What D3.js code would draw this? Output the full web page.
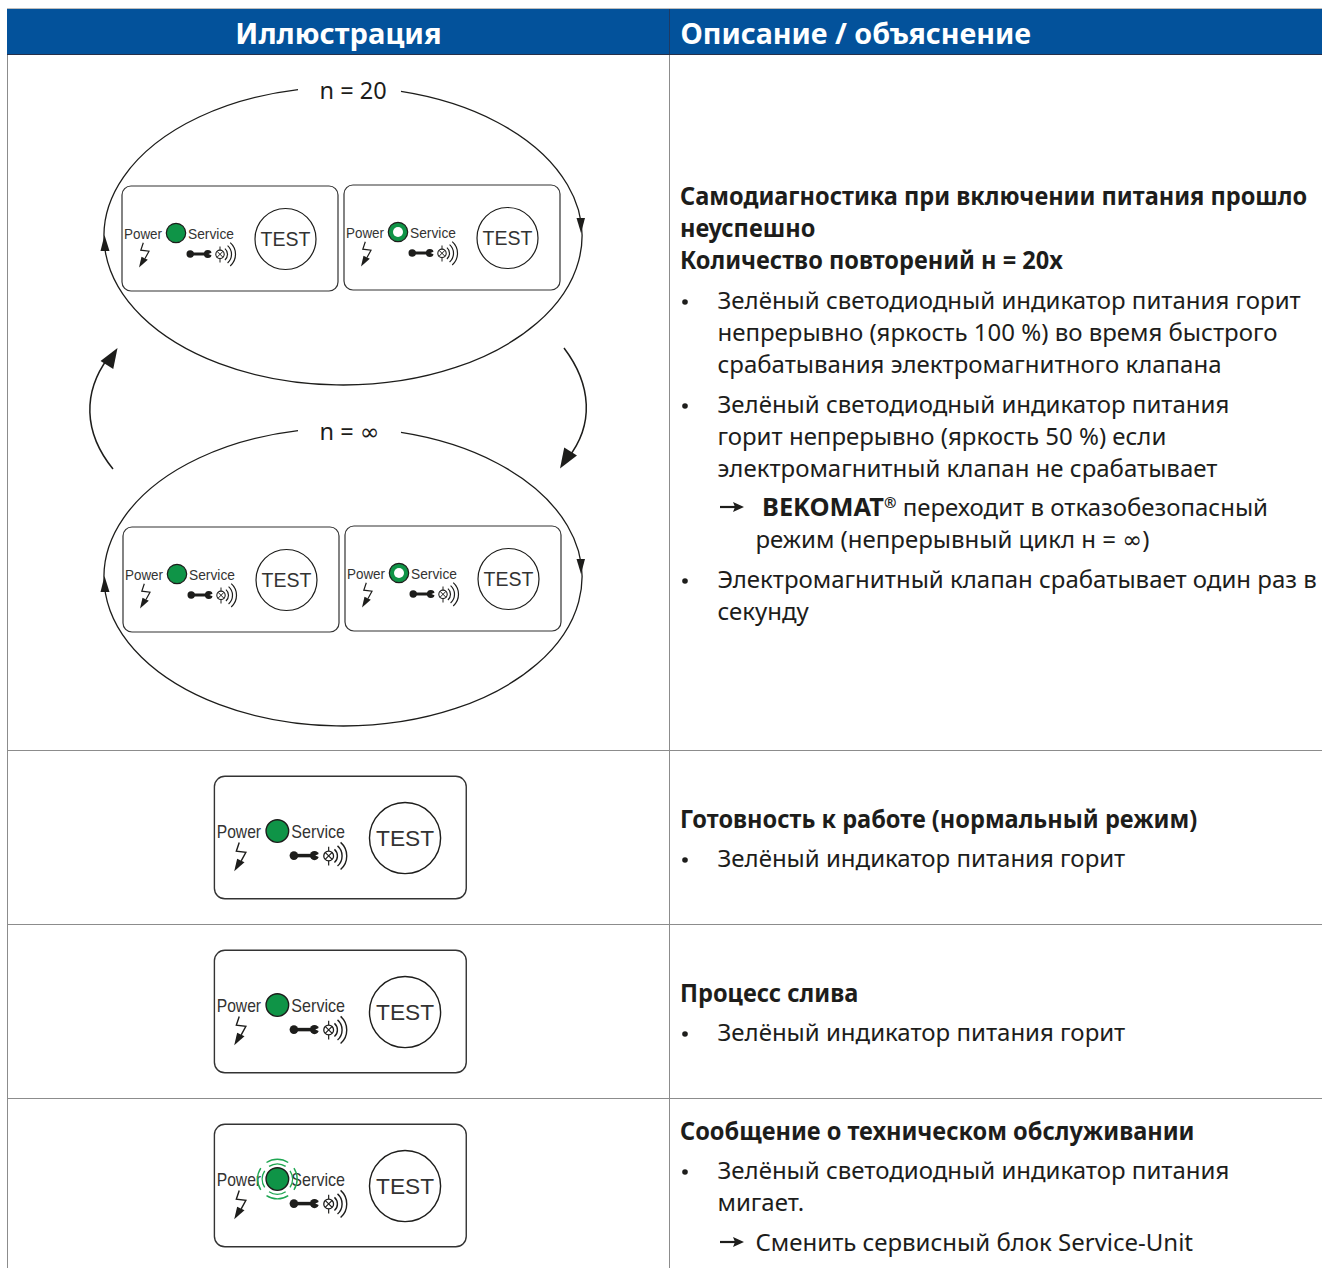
<!DOCTYPE html>
<html><head><meta charset="utf-8">
<script src="https://cdn.jsdelivr.net/npm/d3@7/dist/d3.min.js"></script>
<style>html,body{margin:0;padding:0;background:#fff;overflow:hidden}svg{display:block}</style>
</head><body><div id="c"></div>
<script>
const headers = ["Иллюстрация", "Описание / объяснение"];
const cycleLabels = ["n = 20", "n = ∞"];
const panelWords = ["Power", "Service", "TEST"];
const row1Heading = ["Самодиагностика при включении питания прошло", "неуспешно", "Количество повторений н = 20х"];
const row1Paragraphs = [
  {k:"b", t:["Зелёный светодиодный индикатор питания горит", "непрерывно (яркость 100 %) во время быстрого", "срабатывания электромагнитного клапана"]},
  {k:"b", t:["Зелёный светодиодный индикатор питания", "горит непрерывно (яркость 50 %) если", "электромагнитный клапан не срабатывает"]},
  {k:"a", strong:"BEKOMAT", t:[" переходит в отказобезопасный", "режим (непрерывный цикл н = ∞)"]},
  {k:"b", t:["Электромагнитный клапан срабатывает один раз в", "секунду"]}
];
const row2Heading = ["Готовность к работе (нормальный режим)"];
const row2Paragraphs = [{k:"b", t:["Зелёный индикатор питания горит"]}];
const row3Heading = ["Процесс слива"];
const row3Paragraphs = [{k:"b", t:["Зелёный индикатор питания горит"]}];
const row4Heading = ["Сообщение о техническом обслуживании"];
const row4Paragraphs = [
  {k:"b", t:["Зелёный светодиодный индикатор питания", "мигает."]},
  {k:"a", t:["Сменить сервисный блок Service-Unit"]}
];

const W = 1322, H = 1268, INK = "#1d1d1b", LINE = "#8c8c8c", BLUE = "#03529b", GREEN = "#0f9447";
const FONT = "'Noto Sans','Open Sans',sans-serif", PF = "'Liberation Sans',Arial,sans-serif";
const svg = d3.select("#c").append("svg").attr("width", W).attr("height", H);

/* table */
svg.append("rect").attr("x",7).attr("y",8).attr("width",W).attr("height",1).attr("fill","#bdbdbd");
svg.append("rect").attr("x",7).attr("y",9).attr("width",W).attr("height",45.5).attr("fill",BLUE);
svg.append("line").attr("x1",7).attr("x2",W).attr("y1",54.5).attr("y2",54.5).attr("stroke","#26304a");
svg.append("line").attr("x1",669.5).attr("x2",669.5).attr("y1",9).attr("y2",54).attr("stroke","#1f3a63");
[[7.5,55,H],[669.5,55,H]].forEach(d=>svg.append("line").attr("x1",d[0]).attr("x2",d[0]).attr("y1",d[1]).attr("y2",d[2]).attr("stroke",LINE));
[750.5,924.5,1098.5].forEach(y=>svg.append("line").attr("x1",7).attr("x2",W).attr("y1",y).attr("y2",y).attr("stroke",LINE));
const hdr = (t,x,anchor,sx)=>svg.append("text").text(t).attr("transform",`translate(${x},44) scale(${sx},1)`).attr("text-anchor",anchor)
  .attr("font-family",FONT).attr("font-weight",700).attr("font-size",29.3).attr("fill","#fff");
hdr(headers[0],338.5,"middle",0.995); hdr(headers[1],680.5,"start",0.978);

/* text column */
const SIZE = 24.2, HX_BOLD = 0.975, HX_BODY = 0.992;
function line(t,x,y,bold,hx){
  const sx = hx || (bold?HX_BOLD:HX_BODY);
  const el = svg.append("text").attr("transform",`translate(${x},${y}) scale(${sx},1)`)
    .attr("font-family",FONT).attr("font-size",SIZE).attr("font-weight",bold?700:400).attr("fill",INK)
    .style("white-space","pre");
  t.split(/(∞)/).filter(Boolean).forEach(part=>{
    const sp = el.append("tspan").text(part);
    if(part==="∞") sp.attr("font-family","'DejaVu Sans'");
  });
  return el;
}
function arrowGlyph(x,y){
  svg.append("path").attr("d",`M${x} ${y}H${x+16}`).attr("stroke",INK).attr("stroke-width",2.2);
  svg.append("path").attr("d",`M${x+24} ${y}L${x+13} ${y-5}L${x+15} ${y}L${x+13} ${y+5}Z`).attr("fill",INK);
}
function block(startY,gaps,heading,paras){
  let y = startY;
  heading.forEach((t,i)=>{ if(i) y+=32; line(t,680,y,true); });
  paras.forEach((p,pi)=>{
    y+=gaps[pi];
    if(p.k==="b"){
      svg.append("circle").attr("cx",685).attr("cy",y-7).attr("r",2.8).attr("fill",INK);
      p.t.forEach((t,i)=>{ if(i) y+=32; line(t,717.5,y,false); });
    } else {
      arrowGlyph(720,y-9);
      if(p.strong){
        const s=line(p.strong,762,y,true,1.05);
        const w=s.node().getComputedTextLength()*1.05;
        const r=svg.append("text").text("®").attr("x",762+w).attr("y",y-8).attr("font-family",FONT).attr("font-weight",700).attr("font-size",15).attr("fill",INK);
        line(p.t[0],762+w+r.node().getComputedTextLength(),y,false);
        y+=32; line(p.t[1],755.5,y,false);
      } else p.t.forEach((t,i)=>{ if(i) y+=32; line(t,755.5,y,false); });
    }
  });
}
block(205,[40,40,39,40],row1Heading,row1Paragraphs);
block(828,[39],row2Heading,row2Paragraphs);
block(1002,[39],row3Heading,row3Paragraphs);
block(1140,[39,40],row4Heading,row4Paragraphs);

/* control panel */
function panel(x,y,s,mode){
  const g = svg.append("g").attr("transform",`translate(${x},${y}) scale(${s})`);
  g.append("rect").attr("x",0).attr("y",0).attr("width",216).attr("height",105).attr("rx",9)
    .attr("fill","#fff").attr("stroke","#333").attr("stroke-width",1.2);
  const label=(t,px,fs,len)=>g.append("text").text(t).attr("x",px).attr("y",52.5).attr("font-family",PF)
    .attr("font-size",fs).attr("fill","#333").attr("textLength",len).attr("lengthAdjust","spacingAndGlyphs");
  label(panelWords[0],2,15,38); label(panelWords[1],66,15,46);
  g.append("text").text(panelWords[2]).attr("x",163.5).attr("y",59.5).attr("text-anchor","middle")
    .attr("font-family",PF).attr("font-size",19.5).attr("fill","#333");
  g.append("circle").attr("cx",163.5).attr("cy",53).attr("r",30.5).attr("fill","none").attr("stroke",INK).attr("stroke-width",1.2);
  g.append("circle").attr("cx",54).attr("cy",47).attr("r",9.7).attr("fill",GREEN).attr("stroke",INK).attr("stroke-width",1.2);
  if(mode==="ring") g.append("circle").attr("cx",54).attr("cy",47).attr("r",5).attr("fill","#fff");
  if(mode==="blink"){
    const arc=d3.arc();
    [13,17].forEach(r=>d3.range(4).forEach(i=>{
      const c=i*Math.PI/2, h=0.58;
      g.append("path").attr("transform","translate(54,47)")
        .attr("d",arc({innerRadius:r-.6,outerRadius:r+.6,startAngle:c-h,endAngle:c+h})).attr("fill","#1fa652");
    }));
  }
  /* lightning */
  g.append("path").attr("d","M21.3 56.7L18.8 64.2L27 65.2L23 72.5").attr("fill","none").attr("stroke",INK).attr("stroke-width",1.2);
  g.append("path").attr("d","M17 81.5L19.5 70.8L25.8 73.8Z").attr("fill",INK);
  /* wrench */
  g.append("path").attr("d","M68 68H86").attr("stroke",INK).attr("stroke-width",3);
  g.append("circle").attr("cx",68.2).attr("cy",68).attr("r",3.7).attr("fill",INK);
  g.append("circle").attr("cx",85.8).attr("cy",68).attr("r",3.9).attr("fill",INK);
  g.append("path").attr("d","M90.5 66.3L86.5 68L90.5 69.7Z").attr("fill","#fff");
  /* valve + waves */
  g.append("circle").attr("cx",98).attr("cy",68.3).attr("r",4.2).attr("fill","none").attr("stroke",INK).attr("stroke-width",1.1);
  g.append("path").attr("d","M95 65.3L101 71.3M101 65.3L95 71.3M98 60.5V64M98 72.5V76.5").attr("stroke",INK).attr("stroke-width",1).attr("fill","none");
  [7.5,11.5,15.5].forEach(r=>{
    const a=0.85, cx=98, cy=68.3;
    g.append("path").attr("d",`M${cx+r*Math.cos(a)} ${cy-r*Math.sin(a)}A${r} ${r} 0 0 1 ${cx+r*Math.cos(a)} ${cy+r*Math.sin(a)}`)
      .attr("fill","none").attr("stroke",INK).attr("stroke-width",1.2);
  });
}

/* cycle ellipses */
function cycle(dy,label){
  const cx=343, cy=236+dy, rx=239, ry=149;
  const gx=[298,401];
  const yAt=x=>cy-ry*Math.sqrt(1-((x-cx)/rx)**2);
  svg.append("path").attr("d",`M${gx[0]} ${yAt(gx[0])}A${rx} ${ry} 0 1 0 ${gx[1]} ${yAt(gx[1])}`)
    .attr("fill","none").attr("stroke",INK).attr("stroke-width",1.3);
  const el = svg.append("text").attr("x",319.5).attr("y",99+dy)
    .attr("font-family",FONT).attr("font-size",23.5).attr("fill",INK);
  label.split(/(∞)/).filter(Boolean).forEach(part=>{
    const sp = el.append("tspan").text(part);
    if(part==="∞") sp.attr("font-family","'DejaVu Sans'");
  });
}
function marks(dy){
  svg.append("path").attr("d",`M104.5 ${235+dy}L100.5 ${251+dy}H109.5Z`).attr("fill",INK);
  svg.append("path").attr("d",`M581 ${233+dy}L576.5 ${218+dy}H585Z`).attr("fill",INK);
}
cycle(0,cycleLabels[0]); cycle(341,cycleLabels[1]); marks(0); marks(341);
panel(122,186,1,"on"); panel(344,185,1,"ring");
panel(123,527,1,"on"); panel(345,526,1,"ring");
panel(214.4,776.3,1.166,"on"); panel(214.4,950.3,1.166,"on"); panel(214.4,1124.3,1.166,"blink");

/* connecting arrows */
function head(x,y,angle){
  svg.append("path").attr("transform",`translate(${x},${y}) rotate(${angle})`).attr("d","M0 0L-7.5 20L7.5 20Z").attr("fill",INK);
}
svg.append("path").attr("d","M113 469C83 432 83 392 108 358").attr("fill","none").attr("stroke",INK).attr("stroke-width",1.5);
head(117.5,348,32);
svg.append("path").attr("d","M564 348C592 385 594 425 568 458").attr("fill","none").attr("stroke",INK).attr("stroke-width",1.5);
head(560,468.5,212);
</script></body></html>
